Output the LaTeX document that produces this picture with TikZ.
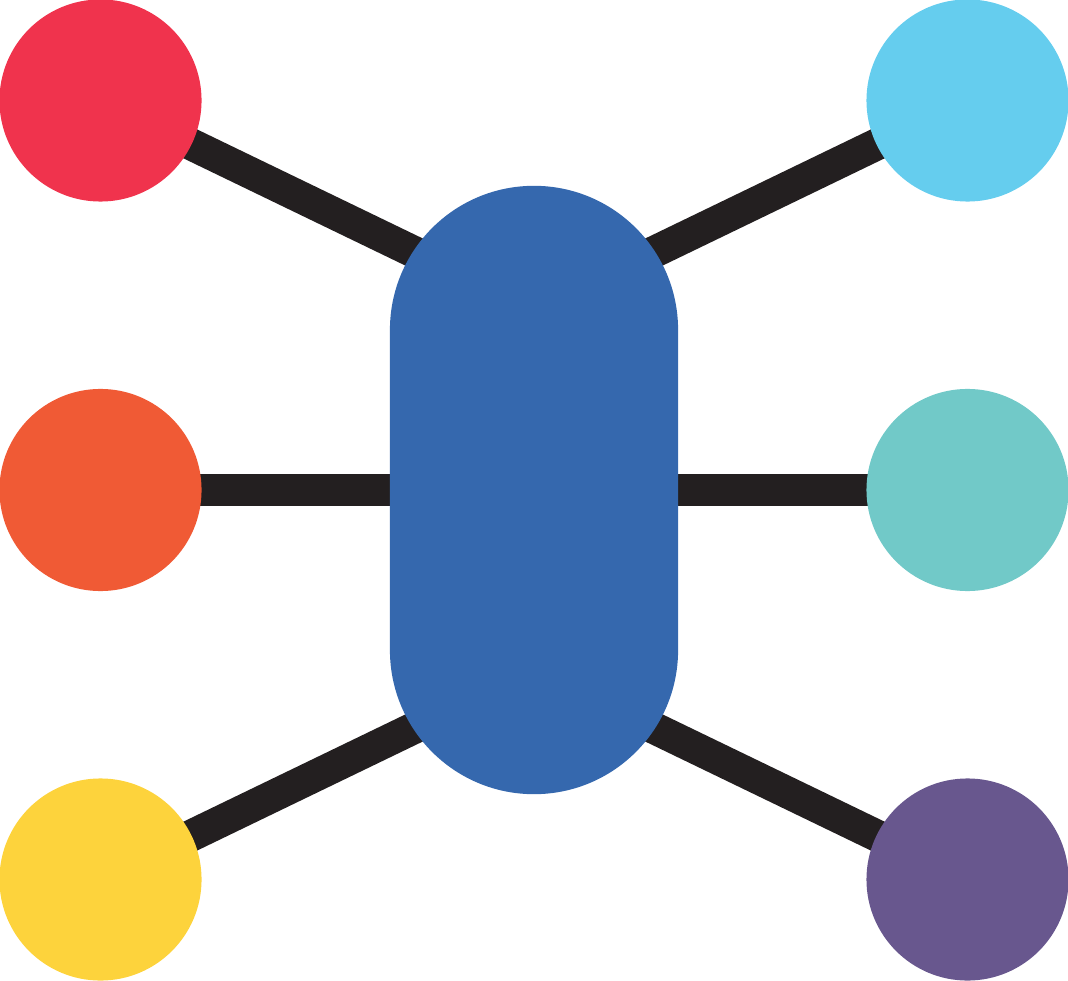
\documentclass[tikz,border=0pt]{standalone}
\usetikzlibrary{backgrounds}
\definecolor{cred}{HTML}{F0334D}
\definecolor{cblue}{HTML}{65CDEE}
\definecolor{corange}{HTML}{F05A35}
\definecolor{cteal}{HTML}{71C9C8}
\definecolor{cyellow}{HTML}{FDD33C}
\definecolor{cpurple}{HTML}{68578E}
\definecolor{chub}{HTML}{3568AE}
\definecolor{cline}{HTML}{231F20}
\begin{document}
\begin{tikzpicture}[x=0.01cm,y=-0.01cm,
  dot/.style={circle,inner sep=0pt,minimum size=2.02cm},
  hub/.style={rectangle,inner sep=0pt,minimum width=2.88cm,minimum height=6.08cm,rounded corners=1.44cm,fill=chub},
  link/.style={draw=cline,line width=0.32cm}]
\useasboundingbox (0,0) rectangle (1068,980);
\node[hub] (pill) at (534,490) {};
\node[dot,fill=cred] (c1) at (100.5,100.5) {};
\node[dot,fill=cblue] (c2) at (967.5,100.5) {};
\node[dot,fill=corange] (c3) at (100.5,490) {};
\node[dot,fill=cteal] (c4) at (967.5,490) {};
\node[dot,fill=cyellow] (c5) at (100.5,879.5) {};
\node[dot,fill=cpurple] (c6) at (967.5,879.5) {};
\coordinate (hubT) at (534,310);
\coordinate (hubB) at (534,670);
\begin{scope}[on background layer]
\draw[link] (c1.center) -- (hubT);
\draw[link] (c2.center) -- (hubT);
\draw[link] (c3.center) -- (pill.center);
\draw[link] (c4.center) -- (pill.center);
\draw[link] (c5.center) -- (hubB);
\draw[link] (c6.center) -- (hubB);
\end{scope}
\end{tikzpicture}
\end{document}
